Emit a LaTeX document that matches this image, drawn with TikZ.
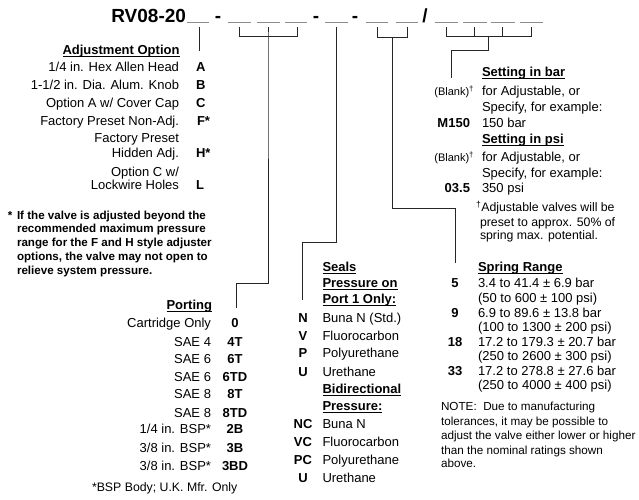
\documentclass[tikz,border=0pt]{standalone}
\usepackage{fontspec}
\setmainfont{Liberation Sans}
\tikzset{
  txt/.style={inner sep=0pt, outer sep=0pt, font=\fontsize{13}{16}\selectfont},
  lbl/.style={txt, anchor=base east},
  dsc/.style={txt, anchor=base west},
  codeL/.style={txt, anchor=base west, font=\fontsize{13}{16}\selectfont\bfseries},
  codeC/.style={txt, anchor=base, font=\fontsize{13}{16}\selectfont\bfseries},
  codeR/.style={txt, anchor=base east, font=\fontsize{13}{16}\selectfont\bfseries},
  headR/.style={txt, anchor=base east, font=\fontsize{13}{16}\selectfont\bfseries},
  headL/.style={txt, anchor=base west, font=\fontsize{13}{16}\selectfont\bfseries},
  title/.style={txt, font=\fontsize{19}{22}\selectfont\bfseries},
  blankc/.style={txt, anchor=base east, font=\fontsize{11}{13}\selectfont},
  foot/.style={txt, anchor=base west, font=\fontsize{12.3}{14}\selectfont},
  note/.style={txt, anchor=base west, font=\fontsize{11.7}{14}\selectfont},
  bnote/.style={txt, anchor=base west, font=\fontsize{11.6}{14}\selectfont\bfseries},
  conn/.style={line width=1pt, draw=black!85},
  blank/.style={line width=1.2pt, draw=black!45},
  uln/.style={line width=1.1pt, draw=black},
}
\newcommand\dg{\textsuperscript{†}}
\newcommand\ulnd[1]{\draw[uln] ([yshift=-1.8pt]#1.base west) -- ([yshift=-1.8pt]#1.base east);}
\begin{document}
\begin{tikzpicture}[x=1pt,y=-1pt]
\useasboundingbox (0,0) rectangle (639,499);

% ---------- title line ----------
\node[title, anchor=base east] (t0) at (186,22) {RV08-20};
\node[title, anchor=base] (d1) at (218,22) {-};
\node[title, anchor=base] (d2) at (316,22) {-};
\node[title, anchor=base] (d3) at (355,22) {-};
\node[title, anchor=base] (sl) at (425,22) {/};

% blanks (underscores)
\foreach \a/\b in {187/209, 228/251, 257/280, 285/307, 325/348, 366/388, 396/418, 435/458, 463/487, 491/515, 520/543}
  \draw[blank] (\a,22.5) -- (\b,22.5);

% ---------- connector coordinates ----------
\coordinate (g1t) at (199,27);
\coordinate (g1b) at (199,51);
\coordinate (g2a) at (239,27); \coordinate (g2a') at (239,36.5);
\coordinate (g2b) at (268,27); \coordinate (g2b') at (268,36.5);
\coordinate (g2c) at (297,27); \coordinate (g2c') at (297,36.5);
\coordinate (g2k1) at (268,283); \coordinate (g2k2) at (236,283);
\coordinate (g2e) at (236,308);
\coordinate (g3t) at (336,27); \coordinate (g3k1) at (336,242);
\coordinate (g3k2) at (302,242); \coordinate (g3e) at (302,300);
\coordinate (g4a) at (377,27); \coordinate (g4a') at (377,37);
\coordinate (g4b) at (407,27); \coordinate (g4b') at (407,37);
\coordinate (g4m) at (392,37);
\coordinate (g4k1) at (392,208.5); \coordinate (g4k2) at (455,208.5);
\coordinate (g4e) at (455,263);
\coordinate (g5a) at (446,27); \coordinate (g5a') at (446,36.5);
\coordinate (g5b) at (474.5,27); \coordinate (g5b') at (474.5,36.5);
\coordinate (g5c) at (502.5,27); \coordinate (g5c') at (502.5,36.5);
\coordinate (g5d) at (531,27); \coordinate (g5d') at (531,36.5);
\coordinate (g5m) at (488,36.5);
\coordinate (g5k1) at (488,50.5); \coordinate (g5k2) at (451.5,50.5);
\coordinate (g5e) at (451.5,78);

\draw[conn] (g1t) -- (g1b);
\draw[conn] (g2a) -- (g2a') -- (g2c') -- (g2c);
\draw[conn] (g2b) -- (g2b') -- (g2k1) -- (g2k2) -- (g2e);
\draw[conn] (g3t) -- (g3k1) -- (g3k2) -- (g3e);
\draw[conn] (g4a) -- (g4a') -- (g4b') -- (g4b);
\draw[conn] (g4m) -- (g4k1) -- (g4k2) -- (g4e);
\draw[conn] (g5a) -- (g5a') -- (g5d') -- (g5d);
\draw[conn] (g5b) -- (g5b');
\draw[conn] (g5c) -- (g5c');
\draw[conn] (g5m) -- (g5k1) -- (g5k2) -- (g5e);

% ---------- Adjustment Option ----------
\node[headR] (ah) at (179.5,54.5) {Adjustment Option}; \ulnd{ah}
\node[lbl] (a1) at (179,71.5) {1/4 in. Hex Allen Head};   \node[codeL] (ac1) at (196,71.5) {A};
\node[lbl] (a2) at (179,89.5) {1-1/2 in. Dia. Alum. Knob}; \node[codeL] (ac2) at (196,89.5) {B};
\node[lbl] (a3) at (179,107.5) {Option A w/ Cover Cap};    \node[codeL] (ac3) at (196,107.5) {C};
\node[lbl] (a4) at (179,125.5) {Factory Preset Non-Adj.};  \node[codeL] (ac4) at (197,125.5) {F*};
\node[lbl] (a5) at (179,142.5) {Factory Preset};
\node[lbl] (a6) at (179,157.5) {Hidden Adj.};              \node[codeL] (ac6) at (196,157.5) {H*};
\node[lbl] (a7) at (179,176) {Option C w/};
\node[lbl] (a8) at (179,189.5) {Lockwire Holes};           \node[codeL] (ac8) at (196,189.5) {L};

% ---------- note ----------
\node[bnote] (n0) at (8,219) {*};
\node[bnote] (n1) at (17,219) {If the valve is adjusted beyond the};
\node[bnote] (n2) at (17,232.5) {recommended maximum pressure};
\node[bnote] (n3) at (17,246.5) {range for the F and H style adjuster};
\node[bnote] (n4) at (17,260) {options, the valve may not open to};
\node[bnote] (n5) at (17,274) {relieve system pressure.};

% ---------- Porting ----------
\node[headR] (ph) at (212,309.5) {Porting}; \ulnd{ph}
\foreach \y/\l/\c [count=\i] in {327.5/{Cartridge Only}/0, 346.5/{SAE 4}/4T, 363.5/{SAE 6}/6T, 381.5/{SAE 6}/6TD, 398.5/{SAE 8}/8T, 417/{SAE 8}/8TD, 433.5/{1/4 in. BSP*}/2B, 452.5/{3/8 in. BSP*}/3B, 470.5/{3/8 in. BSP*}/3BD}{
  \node[lbl] (p\i) at (211,\y) {\l};
  \node[codeC] (pc\i) at (235,\y) {\c};
}
\node[foot] (pf) at (92,491) {*BSP Body; U.K. Mfr. Only};

% ---------- Seals ----------
\node[headL] (s1) at (322.5,271.5) {Seals}; \ulnd{s1}
\node[headL] (s2) at (322.5,287.5) {Pressure on}; \ulnd{s2}
\node[headL] (s3) at (322.5,303.5) {Port 1 Only:}; \ulnd{s3}
\foreach \y/\c/\d [count=\i] in {322.5/N/{Buna N (Std.)}, 340.5/V/Fluorocarbon, 357.5/P/Polyurethane, 376/U/Urethane}{
  \node[codeC] (sc\i) at (303,\y) {\c};
  \node[dsc] (sd\i) at (322.5,\y) {\d};
}
\node[headL] (s4) at (322.5,393.5) {Bidirectional}; \ulnd{s4}
\node[headL] (s5) at (322.5,410.5) {Pressure:}; \ulnd{s5}
\foreach \y/\c/\d [count=\i] in {428.5/NC/{Buna N}, 446.5/VC/Fluorocarbon, 464.5/PC/Polyurethane, 482.5/U/Urethane}{
  \node[codeC] (bc\i) at (303,\y) {\c};
  \node[dsc] (bd\i) at (322.5,\y) {\d};
}

% ---------- Setting ----------
\node[headL] (st1) at (482,76.5) {Setting in bar}; \ulnd{st1}
\node[blankc] (sb1) at (474,95.5) {(Blank)\dg};
\node[dsc] (sx1) at (482,95.5) {for Adjustable, or};
\node[dsc] (sx2) at (482,111.5) {Specify, for example:};
\node[codeR] (sm) at (470,127.5) {M150};
\node[dsc] (sx3) at (482,127.5) {150 bar};
\node[headL] (st2) at (482,143.5) {Setting in psi}; \ulnd{st2}
\node[blankc] (sb2) at (474,161.5) {(Blank)\dg};
\node[dsc] (sx4) at (482,161.5) {for Adjustable, or};
\node[dsc] (sx5) at (482,177.5) {Specify, for example:};
\node[codeR] (sp) at (470,192.5) {03.5};
\node[dsc] (sx6) at (482,192.5) {350 psi};
\node[foot] (sf1) at (476,211.5) {\dg Adjustable valves will be};
\node[foot] (sf2) at (480,226) {preset to approx. 50\% of};
\node[foot] (sf3) at (480,239.5) {spring max. potential.};

% ---------- Spring Range ----------
\node[headL] (rh) at (478,271.5) {Spring Range}; \ulnd{rh}
\node[codeC] (rc1) at (455,287.5) {5};
\node[dsc] (r1) at (478,287.5) {3.4 to 41.4 ± 6.9 bar};
\node[dsc] (r2) at (478,302.5) {(50 to 600 ± 100 psi)};
\node[codeC] (rc2) at (455,317.5) {9};
\node[dsc] (r3) at (478,317.5) {6.9 to 89.6 ± 13.8 bar};
\node[dsc] (r4) at (478,331.5) {(100 to 1300 ± 200 psi)};
\node[codeC] (rc3) at (455,346.5) {18};
\node[dsc] (r5) at (478,346.5) {17.2 to 179.3 ± 20.7 bar};
\node[dsc] (r6) at (478,360) {(250 to 2600 ± 300 psi)};
\node[codeC] (rc4) at (455,375.5) {33};
\node[dsc] (r7) at (478,375.5) {17.2 to 278.8 ± 27.6 bar};
\node[dsc] (r8) at (478,389) {(250 to 4000 ± 400 psi)};

\node[note] (nt1) at (441,410.5) {NOTE:\ \ Due to manufacturing};
\node[note] (nt2) at (441,425) {tolerances, it may be possible to};
\node[note] (nt3) at (441,439.5) {adjust the valve either lower or higher};
\node[note] (nt4) at (441,454) {than the nominal ratings shown};
\node[note] (nt5) at (441,467.5) {above.};
\end{tikzpicture}
\end{document}
